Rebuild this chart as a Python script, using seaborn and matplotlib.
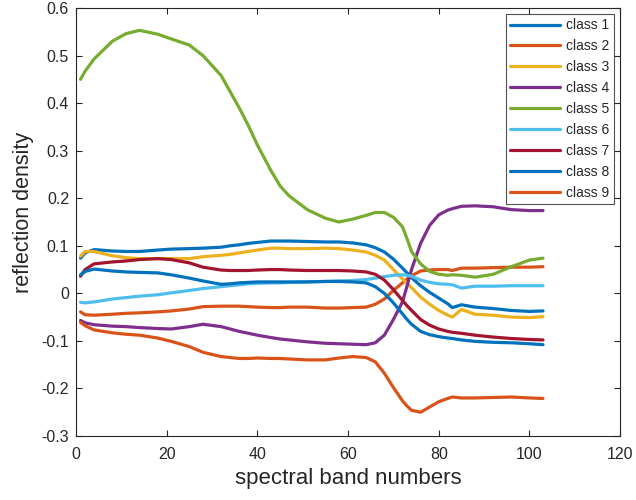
import numpy as np
import pandas as pd
import matplotlib
matplotlib.use("Agg")
import matplotlib.pyplot as plt
import seaborn as sns

bands = [1, 2, 4, 8, 11, 14, 18, 21, 25, 28, 32, 34, 36, 38, 40, 43, 45, 47, 51, 55, 58,
         61, 64, 66, 68, 70, 72, 73, 74, 76, 78, 80, 82, 83, 85, 88, 92, 96, 100, 103]

class1 = [0.074, 0.085, 0.092, 0.089, 0.088, 0.088, 0.091, 0.093, 0.094, 0.095, 0.097, 0.100, 0.102, 0.105,
          0.107, 0.110, 0.110, 0.110, 0.109, 0.108, 0.108, 0.106, 0.102, 0.096, 0.087, 0.072, 0.053, 0.043,
          0.033, 0.016, 0.002, -0.010, -0.022, -0.030, -0.024, -0.029, -0.032, -0.036, -0.038, -0.037]
class2 = [-0.039, -0.045, -0.046, -0.044, -0.042, -0.041, -0.039, -0.037, -0.033, -0.028, -0.027, -0.027, -0.027, -0.028,
          -0.029, -0.030, -0.030, -0.029, -0.029, -0.031, -0.031, -0.030, -0.029, -0.023, -0.012, 0.006, 0.022, 0.030,
          0.037, 0.047, 0.049, 0.050, 0.050, 0.048, 0.053, 0.053, 0.054, 0.055, 0.055, 0.056]
class3 = [0.078, 0.088, 0.088, 0.079, 0.075, 0.073, 0.073, 0.073, 0.073, 0.077, 0.080, 0.082, 0.085, 0.088,
          0.091, 0.095, 0.095, 0.094, 0.094, 0.095, 0.094, 0.091, 0.087, 0.080, 0.070, 0.050, 0.030, 0.021,
          0.012, -0.008, -0.023, -0.036, -0.046, -0.050, -0.034, -0.044, -0.046, -0.050, -0.051, -0.049]
class4 = [-0.057, -0.062, -0.066, -0.069, -0.070, -0.072, -0.074, -0.075, -0.070, -0.065, -0.070, -0.075, -0.080, -0.084,
          -0.088, -0.093, -0.096, -0.098, -0.102, -0.105, -0.106, -0.107, -0.108, -0.104, -0.088, -0.055, -0.018, 0.015,
          0.050, 0.105, 0.143, 0.165, 0.175, 0.178, 0.183, 0.184, 0.182, 0.176, 0.174, 0.174]
class5 = [0.450, 0.467, 0.493, 0.530, 0.546, 0.553, 0.545, 0.535, 0.522, 0.500, 0.458, 0.424, 0.390, 0.353,
          0.312, 0.258, 0.226, 0.205, 0.176, 0.158, 0.150, 0.156, 0.164, 0.170, 0.170, 0.160, 0.140, 0.115,
          0.088, 0.062, 0.046, 0.040, 0.038, 0.039, 0.038, 0.034, 0.040, 0.056, 0.070, 0.074]
class6 = [-0.019, -0.020, -0.018, -0.012, -0.009, -0.006, -0.003, 0.001, 0.006, 0.010, 0.014, 0.016, 0.018, 0.020,
          0.021, 0.022, 0.022, 0.023, 0.024, 0.025, 0.026, 0.027, 0.029, 0.032, 0.035, 0.038, 0.039, 0.038,
          0.036, 0.028, 0.023, 0.020, 0.019, 0.018, 0.011, 0.015, 0.015, 0.016, 0.016, 0.016]
class7 = [0.036, 0.050, 0.062, 0.066, 0.068, 0.071, 0.073, 0.071, 0.064, 0.055, 0.049, 0.048, 0.048, 0.048,
          0.049, 0.050, 0.050, 0.049, 0.048, 0.048, 0.048, 0.047, 0.045, 0.040, 0.028, 0.008, -0.015, -0.026,
          -0.036, -0.055, -0.067, -0.075, -0.080, -0.082, -0.084, -0.088, -0.092, -0.095, -0.097, -0.098]
class8 = [0.039, 0.046, 0.051, 0.047, 0.045, 0.044, 0.043, 0.039, 0.032, 0.026, 0.019, 0.020, 0.022, 0.023,
          0.024, 0.024, 0.024, 0.024, 0.024, 0.025, 0.025, 0.024, 0.022, 0.014, 0.000, -0.020, -0.043, -0.055,
          -0.065, -0.080, -0.087, -0.091, -0.094, -0.095, -0.098, -0.101, -0.103, -0.104, -0.106, -0.108]
class9 = [-0.061, -0.068, -0.077, -0.083, -0.086, -0.088, -0.094, -0.101, -0.112, -0.124, -0.133, -0.135, -0.137, -0.137,
          -0.136, -0.137, -0.137, -0.138, -0.140, -0.140, -0.136, -0.133, -0.135, -0.144, -0.168, -0.198, -0.226, -0.237,
          -0.246, -0.250, -0.239, -0.228, -0.221, -0.218, -0.220, -0.220, -0.219, -0.218, -0.220, -0.221]

class_names = [f"class {i}" for i in range(1, 10)]
series = [class1, class2, class3, class4, class5, class6, class7, class8, class9]
colors = ["#0072BD", "#D95319", "#EDB120", "#7E2F8E", "#77AC30",
          "#4DBEEE", "#A2142F", "#0072BD", "#D95319"]

x_ticks = [0, 20, 40, 60, 80, 100, 120]
y_ticks = [-0.3, -0.2, -0.1, 0, 0.1, 0.2, 0.3, 0.4, 0.5, 0.6]
y_tick_labels = ["-0.3", "-0.2", "-0.1", "0", "0.1", "0.2", "0.3", "0.4", "0.5", "0.6"]

rows = []
for name, vals in zip(class_names, series):
    for b, v in zip(bands, vals):
        rows.append({"band": b, "value": v, "class": name})
df = pd.DataFrame(rows)

sns.set_theme(style="white")
plt.rcParams["font.family"] = ["Liberation Sans", "DejaVu Sans"]

fig = plt.figure(figsize=(6.36, 5.0), dpi=100)
ax = fig.add_axes([0.1195, 0.128, 0.8555, 0.856])

sns.lineplot(data=df, x="band", y="value", hue="class", hue_order=class_names,
             palette=colors, linewidth=2.3, ax=ax, legend=False, sort=False)
for ln in ax.get_lines():
    ln.set_solid_joinstyle("round")
    ln.set_solid_capstyle("round")

ax.set_xlim(0, 120)
ax.set_ylim(-0.3, 0.6)
ax.set_xticks(x_ticks)
ax.set_xticklabels([str(t) for t in x_ticks])
ax.set_yticks(y_ticks)
ax.set_yticklabels(y_tick_labels)

axis_color = "#262626"
for s in ax.spines.values():
    s.set_visible(True)
    s.set_color(axis_color)
    s.set_linewidth(0.8)
ax.tick_params(direction="in", length=4, width=0.8, colors=axis_color,
               labelsize=11.5, top=True, right=True, bottom=True, left=True,
               labeltop=False, labelright=False)
ax.tick_params(axis="x", pad=8)
ax.tick_params(axis="y", pad=5)

ax.set_xlabel("spectral band numbers", fontsize=16, color=axis_color, labelpad=4)
ax.set_ylabel("reflection density", fontsize=15.5, color=axis_color, labelpad=6)
ax.yaxis.set_label_coords(-0.077, 0.523)

handles = [plt.Line2D([], [], color=c, linewidth=2.3) for c in colors]
leg = ax.legend(handles, class_names, loc="upper right", fontsize=10,
                frameon=True, fancybox=False, handlelength=3.6, handletextpad=0.45,
                labelspacing=0.5, borderpad=0.3, borderaxespad=0.45)
leg.get_frame().set_edgecolor(axis_color)
leg.get_frame().set_linewidth(0.8)
for t in leg.get_texts():
    t.set_color(axis_color)

fig.savefig("out.png", dpi=100)
